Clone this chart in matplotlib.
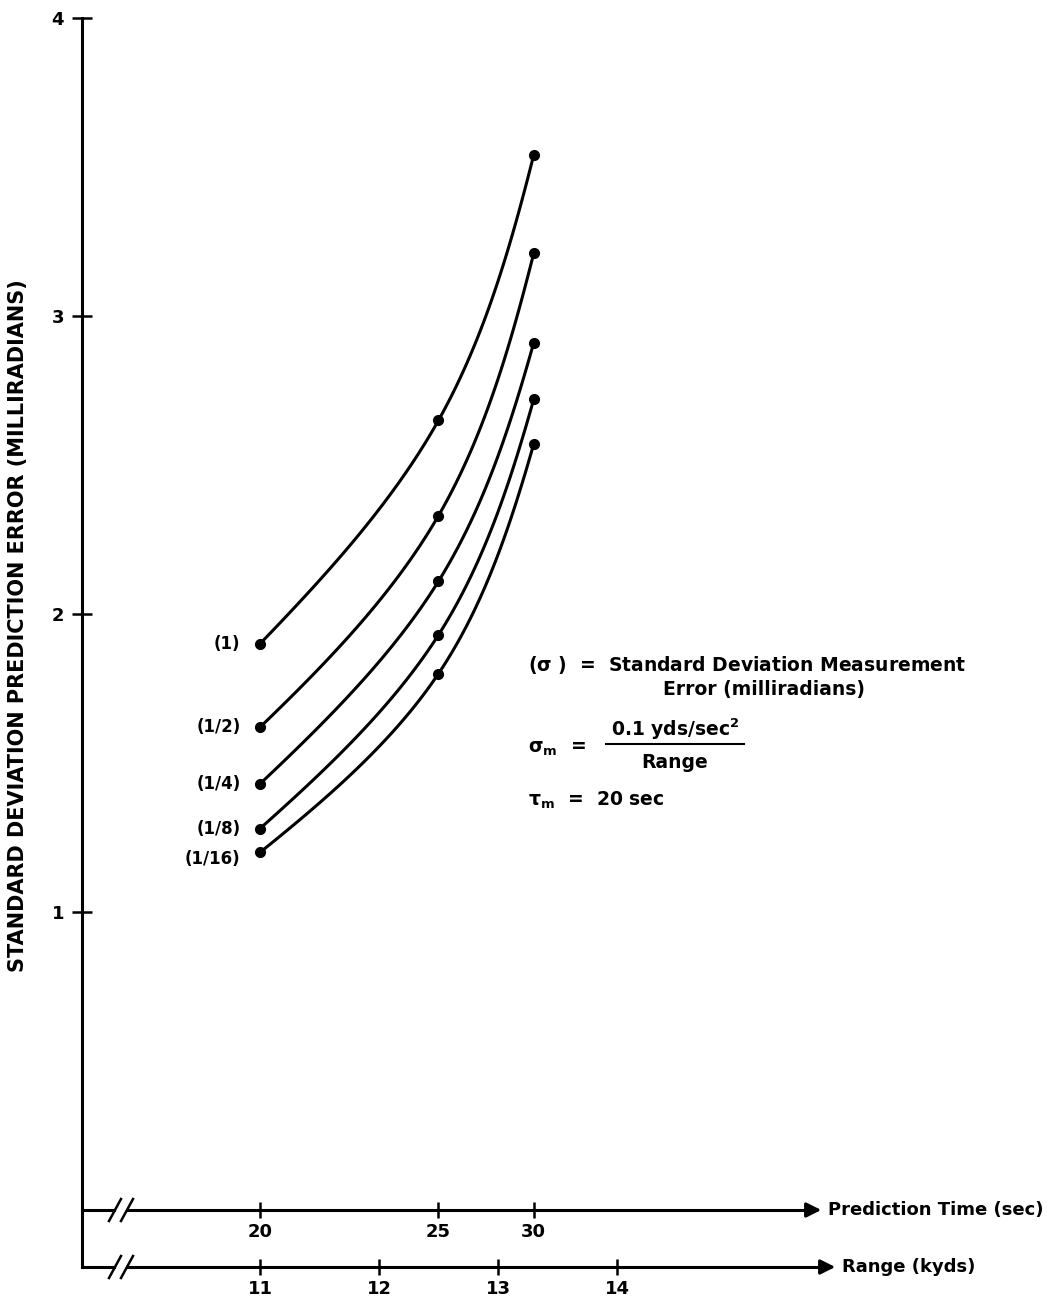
import numpy as np
import matplotlib
matplotlib.use("Agg")
import matplotlib.pyplot as plt

# values
pred_time = [20, 25, 30]            # sec
range_kyds = [11.0, 12.5, 13.3]     # range at those prediction times
range_ticks = [11, 12, 13, 14]

sigma_labels = ['(1)', '(1/2)', '(1/4)', '(1/8)', '(1/16)']
err_1 = [1.90, 2.65, 3.54]
err_1_2 = [1.62, 2.33, 3.21]
err_1_4 = [1.43, 2.11, 2.91]
err_1_8 = [1.28, 1.93, 2.72]
err_1_16 = [1.20, 1.80, 2.57]
curves = [err_1, err_1_2, err_1_4, err_1_8, err_1_16]

plt.rcParams['font.family'] = ['DejaVu Sans']
plt.rcParams['font.weight'] = 'bold'
plt.rcParams['mathtext.default'] = 'regular'

W, H = 1059, 1308
fig = plt.figure(figsize=(W / 100, H / 100), dpi=100)
# axes: left edge at x=82px, y from -0.19 (px 1267) to 4 (px 18)
ax = fig.add_axes([82 / W, (H - 1267) / H, (W - 82) / W, (1267 - 18) / H])
ax.set_xlim(11 - 178 / 119, 11 + 799 / 119)
ax.set_ylim(4 - 1249 / 298, 4)

for s in ['top', 'right', 'bottom']:
    ax.spines[s].set_visible(False)
ax.spines['left'].set_linewidth(2.2)
ax.set_xticks([])
ax.set_yticks([1, 2, 3, 4])
ax.tick_params(axis='y', direction='inout', length=14, width=1.8, pad=6, labelsize=13)

lw = 2.2
x0 = ax.get_xlim()[0]
px = 1 / 119  # one pixel in kyd
py = 1 / 298  # one pixel in milliradians


def hax(y, ticks, labels, tip, text):
    # horizontal axis with break marks and arrow
    ax.plot([x0, x0 + 32 * px], [y, y], color='k', lw=lw, clip_on=False)
    ax.plot([x0 + 46 * px, tip], [y, y], color='k', lw=lw, clip_on=False)
    for bx in (x0 + 33 * px, x0 + 45 * px):
        ax.plot([bx - 6 * px, bx + 6 * px], [y - 11 * py, y + 11 * py], color='k', lw=1.8, clip_on=False)
    ax.annotate('', xy=(tip + 12 * px, y), xytext=(tip - 6 * px, y),
                arrowprops=dict(arrowstyle='-|>', color='k', lw=lw, mutation_scale=22),
                annotation_clip=False)
    ax.plot(ticks, [y] * len(ticks), ls='none', marker='|', ms=12, mew=1.8, color='k', clip_on=False)
    for t, lab in zip(ticks, labels):
        ax.text(t, y - 13 * py, lab, ha='center', va='top', fontsize=13)
    ax.text(tip + 16 * px, y, text, ha='left', va='center', fontsize=13)


hax(0.0, range_kyds, [str(t) for t in pred_time], 11 + 552 / 119, 'Prediction Time (sec)')
hax(ax.get_ylim()[0], range_ticks, ['11', '12', '13', '14'], 11 + 566 / 119, 'Range (kyds)')


def smooth(xv, yv, n=60):
    # Hermite curve through the points (pixel units), bending at the middle point
    P = np.column_stack([np.array(xv) / px, np.array(yv) / py])
    m = np.empty_like(P)
    m[1:-1] = (P[2:] - P[:-2]) / 2
    c0, c1 = P[1] - P[0], P[-1] - P[-2]
    m[0] = c0 + 0.6 * (c0 - m[1])
    m[-1] = c1 + 0.6 * (c1 - m[-2])
    s = np.linspace(0, 1, n)[:, None]
    h00 = 2 * s**3 - 3 * s**2 + 1
    h10 = s**3 - 2 * s**2 + s
    h01 = -2 * s**3 + 3 * s**2
    h11 = s**3 - s**2
    seg = [h00 * P[i] + h10 * m[i] + h01 * P[i + 1] + h11 * m[i + 1] for i in range(len(P) - 1)]
    out = np.vstack(seg)
    return out[:, 0] * px, out[:, 1] * py


for lab, vals in zip(sigma_labels, curves):
    cx, cy = smooth(range_kyds, vals)
    ax.plot(cx, cy, color='k', lw=lw)
    ax.plot(range_kyds, vals, 'o', color='k', ms=7)
    dy = -5 if lab == '(1/16)' else 0
    ax.annotate(lab, (range_kyds[0], vals[0]), xytext=(-14, dy), textcoords='offset points',
                ha='right', va='center', fontsize=12)


# notes
def px2d(xp, yp):
    return 11 + (xp - 260) * px, 4 - (yp - 18) * py


fs = 13.5
ax.text(*px2d(528, 665), r'($\sigma$ )  =  Standard Deviation Measurement', ha='left', va='center', fontsize=fs)
ax.text(*px2d(764, 690), 'Error (milliradians)', ha='center', va='center', fontsize=fs)
ax.text(*px2d(528, 748), r'$\sigma_m$  =', ha='left', va='center', fontsize=fs)
ax.text(*px2d(675, 729), r'0.1 yds/sec$^2$', ha='center', va='center', fontsize=fs)
ax.plot(*zip(px2d(606, 744), px2d(744, 744)), color='k', lw=1.5)
ax.text(*px2d(675, 762), 'Range', ha='center', va='center', fontsize=fs)
ax.text(*px2d(528, 800), r'$\tau_m$  =  20 sec', ha='left', va='center', fontsize=fs)

fig.text(18 / W, (H - 626) / H, 'STANDARD DEVIATION PREDICTION ERROR (MILLIRADIANS)',
         rotation=90, ha='center', va='center', fontsize=15)

fig.savefig('out.png', dpi=100)
